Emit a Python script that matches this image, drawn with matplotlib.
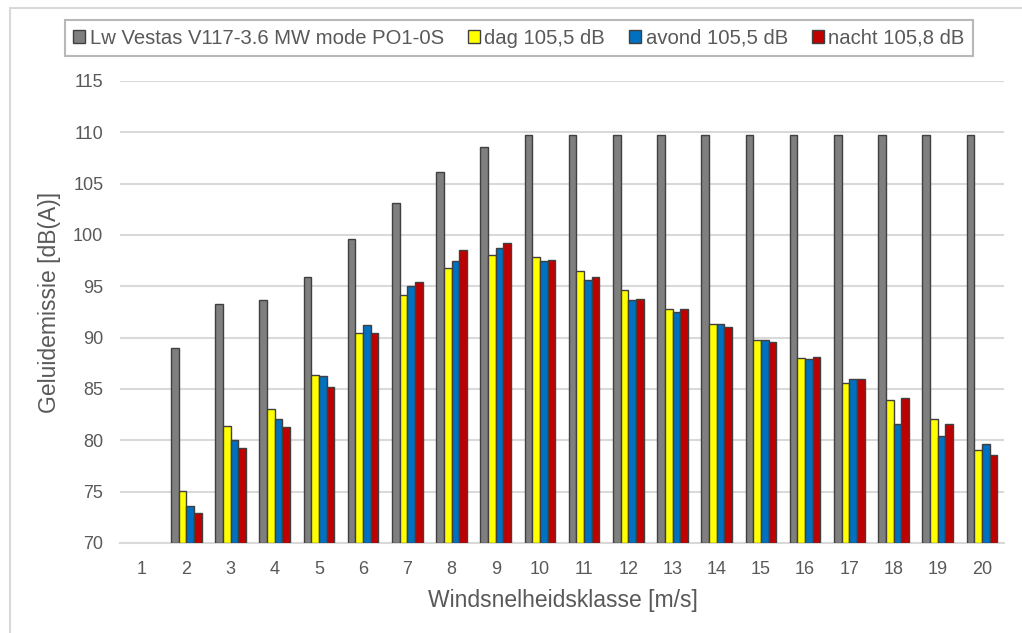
import numpy as np
import matplotlib
matplotlib.use("Agg")
import matplotlib.pyplot as plt
from matplotlib.patches import Patch, Rectangle

plt.rcParams['font.family'] = ['Liberation Sans Narrow', 'Liberation Sans', 'DejaVu Sans']

categories = [str(i) for i in range(1, 21)]
lw_vestas = [np.nan, 89.0, 93.3, 93.7, 95.9, 99.6, 103.1, 106.1, 108.6, 109.7,
             109.7, 109.7, 109.7, 109.7, 109.7, 109.7, 109.7, 109.7, 109.7, 109.7]
dag = [np.nan, 75.1, 81.4, 83.1, 86.4, 90.5, 94.2, 96.8, 98.1, 97.9,
       96.5, 94.6, 92.8, 91.3, 89.8, 88.0, 85.6, 83.9, 82.1, 79.1]
avond = [np.nan, 73.6, 80.0, 82.1, 86.3, 91.2, 95.0, 97.5, 98.7, 97.5,
         95.6, 93.7, 92.5, 91.3, 89.8, 87.9, 86.0, 81.6, 80.4, 79.6]
nacht = [np.nan, 72.9, 79.3, 81.3, 85.2, 90.5, 95.4, 98.5, 99.2, 97.6,
         95.9, 93.8, 92.8, 91.0, 89.6, 88.1, 86.0, 84.1, 81.6, 78.6]
series_labels = ["Lw Vestas V117-3.6 MW mode PO1-0S", "dag 105,5 dB",
                 "avond 105,5 dB", "nacht 105,8 dB"]
colors = ["#7F7F7F", "#FFFF00", "#0070C0", "#C00000"]
yticks = [70, 75, 80, 85, 90, 95, 100, 105, 110, 115]

W, H = 1022, 633
fig = plt.figure(figsize=(W / 100, H / 100), dpi=100)
ax = fig.add_axes([120 / W, 1 - 543 / H, (1004 - 120) / W, (543 - 81) / H])

x = np.arange(1, 21)
bw = 0.172
series = [lw_vestas, dag, avond, nacht]
for i, (vals, c) in enumerate(zip(series, colors)):
    v = np.array(vals, dtype=float)
    bottom = 70
    ax.bar(x + (i - 1.5) * bw, v - bottom, bottom=bottom, width=bw,
           color=c, edgecolor="#404040", linewidth=1.0, zorder=3)

ax.set_xlim(0.5, 20.5)
ax.set_ylim(70, 115)
ax.set_yticks(yticks)
ax.set_xticks(x)
ax.set_xticklabels(categories)
ax.tick_params(axis='both', length=0, labelsize=13, colors="#595959")
ax.tick_params(axis='y', pad=12)
ax.tick_params(axis='x', pad=13)
ax.grid(axis='y', color="#D9D9D9", linewidth=1.5, zorder=0)
for s in ["top", "right", "left"]:
    ax.spines[s].set_visible(False)
ax.spines["bottom"].set_color("#D9D9D9")
ax.spines["bottom"].set_linewidth(1.5)

ax.set_ylabel("Geluidemissie [dB(A)]", fontsize=16.5, color="#595959")
ax.set_xlabel("Windsnelheidsklasse [m/s]", fontsize=16.5, color="#595959")
ax.yaxis.set_label_coords((50 - 120) / (1004 - 120), (543 - 302) / (543 - 81))
ax.xaxis.set_label_coords((563 - 120) / (1004 - 120), -(601 - 543) / (543 - 81))
ax.yaxis.label.set_va("center")
ax.xaxis.label.set_va("center")

handles = [Patch(facecolor=c, edgecolor="#404040", linewidth=1.0) for c in colors]
leg = fig.legend(handles, series_labels, loc="center", bbox_to_anchor=(519 / W, 1 - 38 / H),
                 ncol=4, frameon=True, fancybox=False, fontsize=14.6,
                 handlelength=0.6, handleheight=0.6, handletextpad=0.2,
                 columnspacing=1.2, borderpad=0.4)
leg.get_frame().set_edgecolor("#A6A6A6")
leg.get_frame().set_linewidth(1.5)
for t in leg.get_texts():
    t.set_color("#595959")

# outer chart frame
fig.patches.append(Rectangle((10 / W, -0.1), 1.2, (H - 8) / H + 0.1,
                             transform=fig.transFigure, fill=False,
                             edgecolor="#D9D9D9", linewidth=1.5))

fig.savefig("out.png", dpi=100)
